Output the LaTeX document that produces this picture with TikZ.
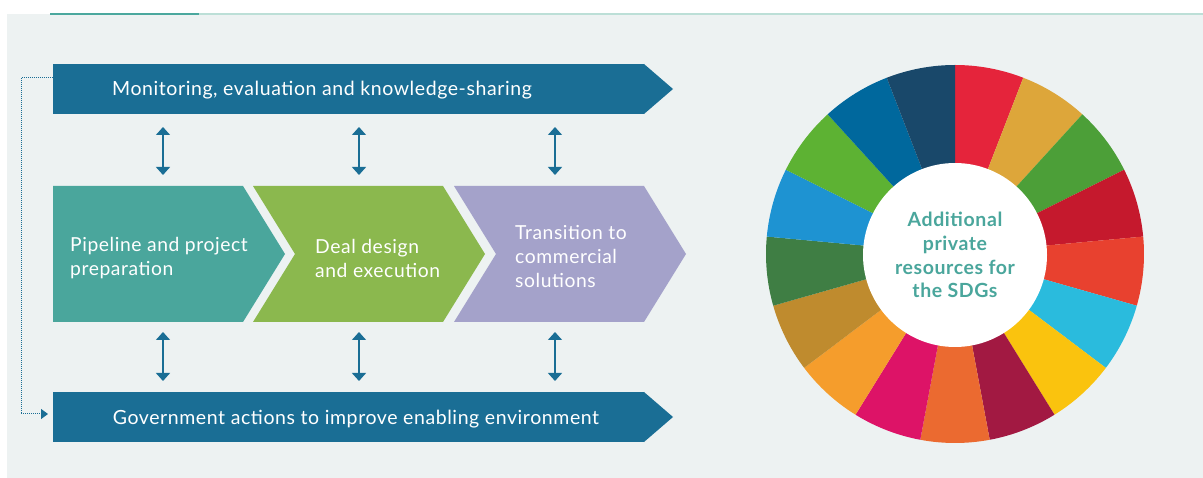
\documentclass[tikz,border=0pt]{standalone}
\usepackage{fontspec}
\setmainfont{Lato}
\newfontfamily\widelato[LetterSpace=3]{Lato}
\usetikzlibrary{arrows.meta}

\definecolor{panel}{HTML}{EDF2F2}
\definecolor{bannerblue}{HTML}{1A6E95}
\definecolor{stepteal}{HTML}{4AA69C}
\definecolor{stepgreen}{HTML}{8BB84E}
\definecolor{steppurple}{HTML}{A4A2CA}
\definecolor{ruleteal}{HTML}{4BA89E}
\definecolor{rulelight}{HTML}{BCDFD7}
% goal colours, clockwise from the top
\definecolor{sdgA}{HTML}{E5243B}
\definecolor{sdgB}{HTML}{DDA63A}
\definecolor{sdgC}{HTML}{4C9F38}
\definecolor{sdgD}{HTML}{C5192D}
\definecolor{sdgE}{HTML}{E8412F}
\definecolor{sdgF}{HTML}{2ABBDD}
\definecolor{sdgG}{HTML}{FAC30E}
\definecolor{sdgH}{HTML}{A21942}
\definecolor{sdgI}{HTML}{EB6A30}
\definecolor{sdgJ}{HTML}{DD1367}
\definecolor{sdgK}{HTML}{F59D2C}
\definecolor{sdgL}{HTML}{BF8B2E}
\definecolor{sdgM}{HTML}{3F7E44}
\definecolor{sdgN}{HTML}{1E93D2}
\definecolor{sdgO}{HTML}{5DB233}
\definecolor{sdgP}{HTML}{00689D}
\definecolor{sdgQ}{HTML}{19486A}

\tikzset{
  bannerbar/.style={rectangle, fill=bannerblue, inner sep=0pt, outer sep=0pt,
    minimum width=591pt, minimum height=50pt, anchor=north west},
  bannertext/.style={text=white, inner sep=0pt, font=\widelato\fontsize{19.5}{22}\selectfont},
  steptext/.style={text=white, inner sep=0pt, anchor=west, align=left,
    font=\widelato\fontsize{19.3}{24}\selectfont},
  linkarrow/.style={draw=bannerblue, line width=1.3pt,
    {Triangle[width=14pt,length=8pt]}-{Triangle[width=14pt,length=8pt]}},
  dotlink/.style={draw=bannerblue, line width=1pt, dash pattern=on 1pt off 1pt,
    -{Triangle[width=10pt,length=7pt]}},
}

\begin{document}
\begin{tikzpicture}[x=1pt,y=-1pt]
\useasboundingbox (0,0) rectangle (1203,478);
\fill[white] (0,0) rectangle (1203,478);
\fill[panel] (7,14) rectangle (1203,478);
\draw[rulelight, line width=1.5pt] (199,14) -- (1203,14);
\draw[ruleteal, line width=1.5pt] (50,14) -- (199,14);

% top and bottom banners
\node[bannerbar] (monbar) at (53,64) {};
\fill[bannerblue] (monbar.north east) -- ++(29,25) -- (monbar.south east) -- cycle;
\node[bannertext] (montext) at (322,90) {Monitoring, evaluation and knowledge-sharing};

\node[bannerbar] (govbar) at (53,392) {};
\fill[bannerblue] (govbar.north east) -- ++(29,25) -- (govbar.south east) -- cycle;
\node[bannertext] (govtext) at (356,419) {Government actions to improve enabling environment};

% feedback loop on the left
\draw[dotlink] ([yshift=11pt]monbar.west) -- ++(-32,0) |- ([xshift=-5pt,yshift=3pt]govbar.west);

% the three process steps
\fill[stepteal] (53,186) -- (243,186) -- (285,254) -- (243,322) -- (53,322) -- cycle;
\fill[stepgreen] (253,186) -- (443,186) -- (485,254) -- (443,322) -- (253,322) -- (295,254) -- cycle;
\fill[steppurple] (454,186) -- (644,186) -- (686,254) -- (644,322) -- (454,322) -- (496,254) -- cycle;

\node[steptext] (pipe) at (70,258) {Pipeline and project\\preparation};
\node[steptext] (deal) at (315,258) {Deal design\\and execution};
\node[steptext] (trans) at (515,257) {Transition to\\commercial\\solutions};

% two-way links between the banners and the steps
\foreach \k/\x in {a/163, b/359, c/555} {
  \coordinate (up\k) at (\x,127);
  \coordinate (mid\k) at (\x,175);
  \coordinate (low\k) at (\x,332);
  \coordinate (bot\k) at (\x,381);
  \draw[linkarrow] (up\k) -- (mid\k);
  \draw[linkarrow] (low\k) -- (bot\k);
}

% goals wheel
\begin{scope}[shift={(955,254)}]
  \foreach \c [count=\i from 0] in {sdgA,sdgB,sdgC,sdgD,sdgE,sdgF,sdgG,sdgH,sdgI,sdgJ,sdgK,sdgL,sdgM,sdgN,sdgO,sdgP,sdgQ} {
    \pgfmathsetmacro{\aa}{-90+\i*360/17}
    \pgfmathsetmacro{\ab}{-90+(\i+1)*360/17}
    \fill[\c] (0,0) -- (\aa:189) arc[start angle=\aa, end angle=\ab, radius=189] -- cycle;
  }
  \node[circle, fill=white, minimum size=184pt, inner sep=0pt, text=stepteal, align=center,
        font=\widelato\fontsize{19.5}{23.7}\selectfont\bfseries] (core) at (0,1)
        {Additional\\private\\resources for\\the SDGs};
\end{scope}
\end{tikzpicture}
\end{document}
